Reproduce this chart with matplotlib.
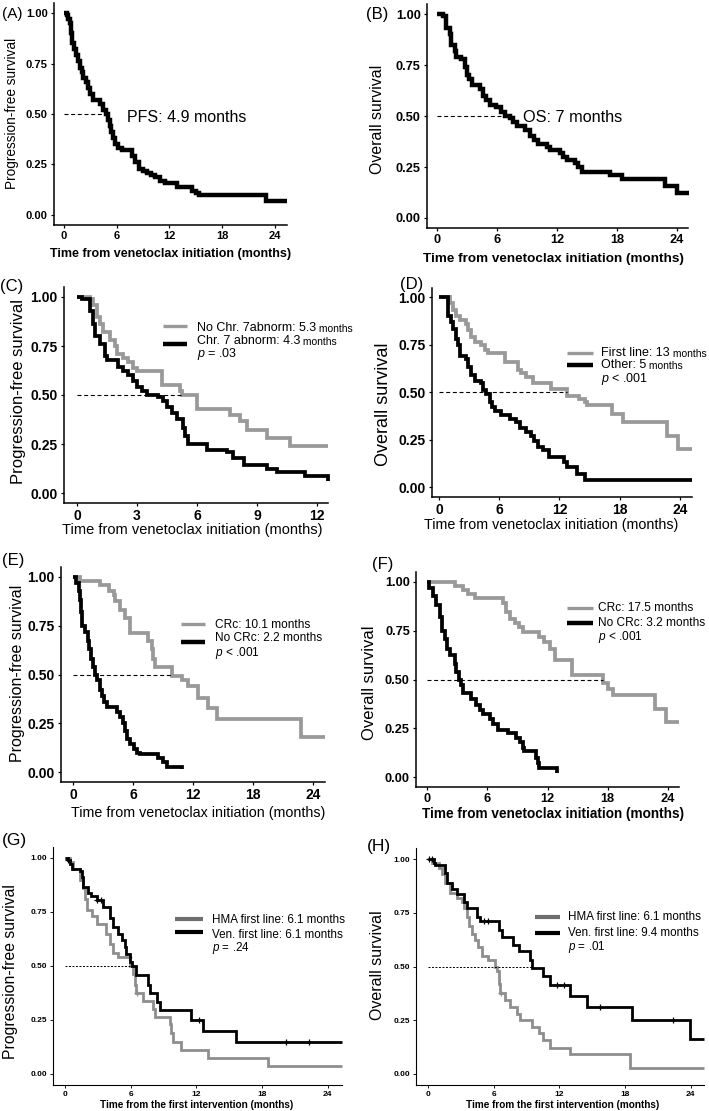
import matplotlib.pyplot as plt
import matplotlib.transforms as mtransforms
import numpy as np
from matplotlib.lines import Line2D

plt.rcParams["font.family"] = ["Liberation Sans", "DejaVu Sans"]
plt.rcParams["mathtext.fontset"] = "custom"
plt.rcParams["mathtext.it"] = "Liberation Sans:italic"
plt.rcParams["mathtext.rm"] = "Liberation Sans"

W, H = 709, 1111
GREY = "#999999"
GREY_G = "#8e8e8e"
GREY_G_KEY = "#6e6e6e"

Y_TICKS = [0.0, 0.25, 0.5, 0.75, 1.0]
Y_TICK_LABELS = ["0.00", "0.25", "0.50", "0.75", "1.00"]
X_TICKS_24 = [0, 6, 12, 18, 24]
X_TICKS_12 = [0, 3, 6, 9, 12]

# ---- (A) PFS, whole cohort ----
a_t = [0, 0.3, 0.5, 0.7, 0.8, 0.95, 1.1, 1.4, 1.6, 1.8, 2.0, 2.2, 2.5, 2.7, 3.0, 3.3, 4.1, 4.4, 4.8, 5.0,
       5.2, 5.4, 5.6, 5.8, 6.1, 6.6, 7.8, 8.1, 8.5, 9.0, 9.4, 9.9, 10.4, 10.9, 11.5, 12.9, 14.6, 15.0, 15.4, 23.0,
       25.4]
a_s = [1.0, 0.99, 0.97, 0.95, 0.90, 0.85, 0.82, 0.79, 0.76, 0.73, 0.71, 0.68, 0.66, 0.63, 0.60, 0.57, 0.55, 0.52,
       0.50, 0.47, 0.44, 0.41, 0.38, 0.35, 0.33, 0.32, 0.29, 0.26, 0.23, 0.22, 0.21, 0.20, 0.19, 0.17, 0.16, 0.14,
       0.12, 0.11, 0.10, 0.07, 0.07]

# ---- (B) OS, whole cohort ----
b_t = [0, 0.6, 0.94, 1.27, 1.4, 1.77, 1.94, 2.44, 2.78, 3.0, 3.2, 3.55, 4.28, 4.6, 4.95, 5.35, 5.95, 6.45, 6.8,
       7.3, 7.6, 7.96, 8.8, 9.3, 9.7, 10.1, 10.97, 11.3, 12.3, 12.6, 13.0, 13.8, 14.1, 14.5, 17.3, 18.5, 22.8, 24.0,
       25.2]
b_s = [1.0, 0.99, 0.93, 0.90, 0.85, 0.82, 0.79, 0.78, 0.74, 0.70, 0.68, 0.65, 0.63, 0.60, 0.58, 0.555, 0.545,
       0.52, 0.50, 0.49, 0.47, 0.45, 0.43, 0.40, 0.38, 0.365, 0.35, 0.335, 0.32, 0.30, 0.285, 0.27, 0.25, 0.225,
       0.21, 0.19, 0.155, 0.125, 0.125]

# ---- (C) PFS by chromosome 7 ----
c_grey_t = [0, 0.65, 0.82, 0.98, 1.15, 1.32, 1.65, 1.9, 2.0, 2.3, 2.57, 2.8, 3.0, 4.24, 5.15, 5.25, 6.0, 7.66,
            8.16, 8.5, 9.5, 10.67, 12.55]
c_grey_s = [1.0, 0.99, 0.96, 0.90, 0.86, 0.82, 0.78, 0.75, 0.71, 0.69, 0.67, 0.64, 0.62, 0.55, 0.52, 0.50, 0.43,
            0.40, 0.365, 0.32, 0.28, 0.24, 0.24]
c_black_t = [0, 0.23, 0.65, 0.82, 0.9, 1.15, 1.4, 1.48, 2.07, 2.3, 2.57, 2.8, 3.0, 3.24, 3.5, 4.07, 4.32, 4.5,
             4.74, 5.0, 5.3, 5.4, 5.57, 6.5, 7.5, 7.8, 8.33, 9.5, 10.0, 11.4, 12.55]
c_black_s = [1.0, 0.99, 0.93, 0.86, 0.80, 0.76, 0.70, 0.68, 0.645, 0.62, 0.60, 0.57, 0.54, 0.52, 0.50, 0.49, 0.47,
             0.44, 0.41, 0.38, 0.33, 0.29, 0.25, 0.22, 0.21, 0.18, 0.145, 0.12, 0.105, 0.085, 0.06]
c_labels = ["No Chr. 7abnorm: 5.3", "Chr. 7 abnorm: 4.3"]
c_suffix = " months"
c_p = "$p$ = .03"

# ---- (D) OS by line of therapy ----
d_grey_t = [0, 1.06, 1.4, 1.73, 2.06, 2.73, 2.9, 3.2, 3.56, 4.2, 4.55, 4.9, 6.55, 7.9, 8.2, 8.7, 9.4, 11.2, 12.7,
            13.9, 14.5, 14.7, 17.2, 18.35, 22.7, 23.8, 25.2]
d_grey_s = [1.0, 0.97, 0.93, 0.90, 0.88, 0.86, 0.825, 0.79, 0.765, 0.745, 0.72, 0.705, 0.66, 0.615, 0.60, 0.58,
            0.55, 0.515, 0.48, 0.465, 0.445, 0.43, 0.385, 0.34, 0.27, 0.20, 0.20]
d_black_t = [0, 0.9, 1.23, 1.4, 1.73, 1.9, 2.06, 2.73, 2.9, 3.2, 3.56, 4.2, 4.4, 4.7, 5.05, 5.3, 5.55, 6.2, 7.05,
             7.7, 8.05, 8.7, 9.2, 9.5, 9.9, 10.4, 11.0, 12.4, 12.7, 13.7, 14.5, 25.2]
d_black_s = [1.0, 0.90, 0.87, 0.83, 0.78, 0.75, 0.69, 0.675, 0.63, 0.59, 0.56, 0.55, 0.51, 0.49, 0.45, 0.42, 0.40,
             0.38, 0.36, 0.34, 0.31, 0.29, 0.27, 0.24, 0.21, 0.195, 0.16, 0.13, 0.105, 0.07, 0.035, 0.035]
d_labels = ["First line: 13", "Other: 5"]
d_suffix = " months"
d_p = "$p$ < .001"

# ---- (E) PFS by CRc ----
e_grey_t = [0, 0.73, 2.7, 3.56, 4.05, 4.2, 4.7, 5.2, 5.7, 7.5, 7.9, 8.0, 8.2, 9.9, 10.9, 11.5, 12.5, 13.5, 14.4,
            22.8, 25.2]
e_grey_s = [1.0, 0.98, 0.96, 0.93, 0.91, 0.875, 0.83, 0.79, 0.715, 0.67, 0.63, 0.58, 0.54, 0.49, 0.47, 0.44, 0.38,
            0.33, 0.27, 0.18, 0.18]
e_black_t = [0, 0.33, 0.56, 0.73, 0.8, 0.9, 1.23, 1.46, 1.56, 1.8, 2.0, 2.16, 2.4, 2.73, 2.9, 3.1, 3.4, 4.4, 4.7,
             5.0, 5.2, 5.4, 5.7, 6.05, 6.4, 6.7, 8.5, 9.0, 9.4, 10.9]
e_black_s = [1.0, 0.97, 0.93, 0.88, 0.82, 0.75, 0.72, 0.67, 0.63, 0.58, 0.54, 0.50, 0.47, 0.42, 0.39, 0.36, 0.335,
             0.31, 0.28, 0.25, 0.21, 0.17, 0.145, 0.12, 0.10, 0.09, 0.07, 0.05, 0.025, 0.015]
e_labels = ["CRc: 10.1 months", "No CRc: 2.2 months"]
e_p = "$p$ < .001"

# ---- (F) OS by CRc ----
f_grey_t = [0, 2.75, 3.6, 4.1, 4.75, 7.6, 7.9, 8.24, 8.74, 9.2, 9.57, 11.2, 11.7, 12.2, 12.7, 14.4, 17.5, 18.0,
            18.5, 22.7, 23.85, 25.1]
f_grey_s = [1.0, 0.98, 0.96, 0.94, 0.92, 0.89, 0.845, 0.81, 0.79, 0.77, 0.745, 0.72, 0.69, 0.655, 0.60, 0.525,
            0.48, 0.45, 0.42, 0.35, 0.28, 0.28]
f_black_t = [0, 0.2, 0.6, 0.86, 1.26, 1.33, 1.53, 1.76, 2.0, 2.26, 2.75, 2.92, 3.2, 3.35, 3.6, 4.4, 4.85, 5.25,
             5.6, 6.25, 6.6, 7.1, 8.1, 8.9, 9.25, 9.57, 9.7, 10.9, 11.05, 11.2, 12.9]
f_black_s = [1.0, 0.97, 0.93, 0.88, 0.86, 0.82, 0.75, 0.71, 0.655, 0.625, 0.58, 0.54, 0.50, 0.47, 0.43, 0.40, 0.37,
             0.345, 0.325, 0.30, 0.27, 0.24, 0.225, 0.20, 0.18, 0.15, 0.135, 0.10, 0.07, 0.045, 0.02]
f_labels = ["CRc: 17.5 months", "No CRc: 3.2 months"]
f_p = "$p$ < .001"

# ---- (G) PFS, HMA vs venetoclax first line ----
g_grey_t = [0, 0.45, 0.76, 1.37, 1.67, 1.82, 1.98, 2.43, 2.9, 3.74, 4.1, 4.4, 4.86, 5.9, 6.2, 6.4, 6.5, 7.14, 8.05,
            8.2, 9.57, 9.7, 9.9, 10.6, 13.07, 18.5, 25.3]
g_grey_s = [1.0, 0.98, 0.95, 0.90, 0.86, 0.81, 0.76, 0.73, 0.695, 0.65, 0.60, 0.56, 0.54, 0.50, 0.465, 0.41, 0.375,
            0.34, 0.30, 0.265, 0.23, 0.19, 0.15, 0.11, 0.072, 0.037, 0.037]
g_grey_cens = [5.8, 6.6]
g_black_t = [0, 0.3, 0.45, 0.6, 1.37, 1.52, 1.67, 2.1, 2.4, 2.9, 3.5, 4.15, 4.4, 4.86, 5.17, 5.47, 5.6, 5.93, 6.08,
             6.5, 7.6, 7.75, 8.36, 8.66, 11.55, 12.6, 15.6, 25.3]
g_black_s = [1.0, 0.99, 0.97, 0.95, 0.94, 0.91, 0.865, 0.84, 0.825, 0.805, 0.775, 0.72, 0.68, 0.65, 0.62, 0.59,
             0.555, 0.52, 0.50, 0.46, 0.41, 0.375, 0.335, 0.295, 0.25, 0.20, 0.15, 0.15]
g_black_cens = [0.3, 2.9, 3.3, 12.2, 20.2, 22.3]
g_labels = ["HMA first line: 6.1 months", "Ven. first line: 6.1 months"]
g_p = "$p$ = .24"

# ---- (H) OS, HMA vs venetoclax first line ----
h_grey_t = [0, 0.36, 1.0, 1.28, 1.58, 2.04, 2.64, 3.1, 3.25, 3.56, 3.7, 4.0, 4.3, 4.6, 4.9, 5.5, 6.1, 6.3, 6.45,
            6.6, 7.05, 7.5, 8.1, 8.4, 9.5, 10.1, 10.5, 11.15, 13.0, 18.45, 25.2]
h_grey_s = [1.0, 0.98, 0.96, 0.93, 0.89, 0.84, 0.82, 0.80, 0.77, 0.73, 0.69, 0.65, 0.625, 0.59, 0.55, 0.53, 0.50,
            0.48, 0.42, 0.375, 0.345, 0.31, 0.28, 0.25, 0.22, 0.19, 0.16, 0.12, 0.095, 0.03, 0.03]
h_grey_cens = [6.7]
h_black_t = [0, 0.5, 0.65, 1.58, 1.73, 2.2, 2.64, 3.25, 3.56, 4.47, 4.77, 6.44, 6.75, 7.8, 8.27, 9.33, 9.5, 10.5,
             11.15, 13.0, 14.5, 18.6, 23.9, 25.2]
h_black_s = [1.0, 0.98, 0.97, 0.935, 0.89, 0.86, 0.835, 0.80, 0.77, 0.73, 0.71, 0.67, 0.635, 0.60, 0.57, 0.53,
             0.495, 0.455, 0.415, 0.365, 0.31, 0.25, 0.165, 0.165]
h_black_cens = [0.1, 0.4, 5.1, 5.5, 11.8, 12.4, 15.7, 22.4]
h_labels = ["HMA first line: 6.1 months", "Ven. first line: 9.4 months"]
h_p = "$p$ = .01"

fig = plt.figure(figsize=(W / 100, H / 100), dpi=100)
PX = mtransforms.Affine2D().scale(1 / W, -1 / H).translate(0, 1) + fig.transFigure


def make_axes(left, top, right, bottom, xlim, xticks, tick_size, spine_w=1.1, tick_len=2.3):
    ax = fig.add_axes([left / W, 1 - bottom / H, (right - left) / W, (bottom - top) / H])
    ax.set_xlim(*xlim)
    ax.set_ylim(-0.05, 1.05)
    ax.set_xticks(xticks)
    ax.set_yticks(Y_TICKS)
    ax.set_yticklabels(Y_TICK_LABELS)
    for side in ("top", "right"):
        ax.spines[side].set_visible(False)
    for side in ("left", "bottom"):
        ax.spines[side].set_linewidth(spine_w)
    ax.tick_params(length=tick_len, width=spine_w * 0.8, labelsize=tick_size, pad=2.2)
    for lab in ax.get_xticklabels() + ax.get_yticklabels():
        lab.set_fontweight("bold")
    ax.patch.set_visible(False)
    return ax


def set_labels(ax, ylabel, yxy, ysize, xlabel, xxy, xsize, xweight):
    ax.set_ylabel(ylabel, fontsize=ysize)
    ax.yaxis.label.set_verticalalignment("center")
    ax.yaxis.set_label_coords(*yxy, transform=PX)
    ax.set_xlabel(xlabel, fontsize=xsize, fontweight=xweight)
    ax.xaxis.label.set_verticalalignment("center")
    ax.xaxis.set_label_coords(*xxy, transform=PX)


def draw_curve(ax, t, s, color, lw, censor=None, ms=4.5):
    ax.step(t, s, where="post", color=color, lw=lw, solid_joinstyle="miter", solid_capstyle="butt", clip_on=False)
    if censor:
        idx = np.searchsorted(t, censor, side="right") - 1
        ax.plot(censor, np.asarray(s)[idx], ls="none", marker="+", ms=ms, mew=0.9, color=color)


def median_line(ax, curves, lw, dashes):
    ends = [t[int(np.argmax(np.asarray(s) <= 0.5))] for t, s in curves]
    ax.hlines(0.5, 0, max(ends), colors="black", lw=lw, linestyles=(0, dashes))


def legend(keys, line_x, text_x, rows, labels, p_text, size, suffix=None, suffix_size=None):
    # keys: (color, y, lw) of the two legend keys; rows: y of the three text rows
    for color, y, lw in keys:
        fig.add_artist(Line2D([line_x[0], line_x[1]], [y, y], transform=PX, color=color, lw=lw,
                              solid_capstyle="butt"))
    for lab, y in zip(labels, rows[:2]):
        txt = fig.text(text_x, y, lab, transform=PX, fontsize=size, va="center", ha="left")
        if suffix:
            fig.add_artist(plt.Annotation(suffix, xy=(1, 0), xycoords=txt, fontsize=suffix_size,
                                          va="bottom", ha="left"))
    fig.text(text_x, rows[2], p_text, transform=PX, fontsize=size, va="center", ha="left")


def letter(x, y, s, size=12):
    fig.text(x, y, s, transform=PX, fontsize=size, va="center", ha="left")


LW_AB, LW_CF, LW_GH = 3.2, 2.7, 2.0
DASH = (3.6, 2.4)
DOT = (2.0, 1.6)
PFS_LABEL = "Progression-free survival"
OS_LABEL = "Overall survival"
X_LABEL = "Time from venetoclax initiation (months)"
X_LABEL_GH = "Time from the first intervention (months)"

# (A)
ax = make_axes(54, 2.9, 287, 225.1, (-1.14, 25.4), X_TICKS_24, 8)
draw_curve(ax, a_t, a_s, "black", LW_AB)
median_line(ax, [(a_t, a_s)], 0.8, DASH)
set_labels(ax, PFS_LABEL, (12, 113), 9.8, X_LABEL, (171, 254), 9, "bold")
fig.text(127, 117, "PFS: 4.9 months", transform=PX, fontsize=11.5, va="center")
letter(2, 14, "(A)", 11)

# (B)
ax = make_axes(427, 3.8, 688, 228.2, (-1.0, 25.1), X_TICKS_24, 9.2)
draw_curve(ax, b_t, b_s, "black", LW_AB)
median_line(ax, [(b_t, b_s)], 0.8, DASH)
set_labels(ax, OS_LABEL, (378, 119), 11.4, X_LABEL, (553, 259), 9.7, "bold")
fig.text(523, 117, "OS: 7 months", transform=PX, fontsize=11.7, va="center")
letter(366, 15, "(B)", 12)

# (C)
ax = make_axes(64, 287.2, 328, 502.8, (-0.65, 12.55), X_TICKS_12, 10)
draw_curve(ax, c_grey_t, c_grey_s, GREY, LW_CF)
draw_curve(ax, c_black_t, c_black_s, "black", LW_CF)
median_line(ax, [(c_grey_t, c_grey_s), (c_black_t, c_black_s)], 0.8, DASH)
set_labels(ax, PFS_LABEL, (19, 391), 12, X_LABEL, (192, 530), 10.5, "normal")
legend([(GREY, 326, 2.4), ("black", 344, 3.2)], (163, 187), 197, (328, 341, 354), c_labels, c_p, 9,
       c_suffix, 7.5)
letter(0, 287, "(C)", 12)

# (D)
ax = make_axes(432, 287.5, 692, 496.5, (-0.7, 25.2), X_TICKS_24, 10)
draw_curve(ax, d_grey_t, d_grey_s, GREY, LW_CF)
draw_curve(ax, d_black_t, d_black_s, "black", LW_CF)
median_line(ax, [(d_grey_t, d_grey_s), (d_black_t, d_black_s)], 0.8, DASH)
set_labels(ax, OS_LABEL, (384, 404), 13, X_LABEL, (551, 525), 10.3, "normal")
legend([(GREY, 353, 2.4), ("black", 365, 3.2)], (567, 593), 601, (353, 365, 379), d_labels, d_p, 9,
       d_suffix, 7.5)
letter(400, 284, "(D)", 12)

# (E)
ax = make_axes(61, 567.25, 325, 781.75, (-1.2, 25.2), X_TICKS_24, 10)
draw_curve(ax, e_grey_t, e_grey_s, GREY, LW_CF)
draw_curve(ax, e_black_t, e_black_s, "black", LW_CF)
median_line(ax, [(e_grey_t, e_grey_s), (e_black_t, e_black_s)], 0.8, DASH)
set_labels(ax, PFS_LABEL, (17.5, 673), 11.5, X_LABEL, (198, 813), 10.3, "normal")
legend([(GREY, 624, 2.4), ("black", 642, 3.2)], (181, 205), 215, (625, 638, 653), e_labels, e_p, 8.6)
letter(2, 560, "(E)", 12)

# (F)
ax = make_axes(416, 572.25, 679, 786.75, (-1.1, 25.1), X_TICKS_24, 9.2)
draw_curve(ax, f_grey_t, f_grey_s, GREY, LW_CF)
draw_curve(ax, f_black_t, f_black_s, "black", LW_CF)
median_line(ax, [(f_grey_t, f_grey_s), (f_black_t, f_black_s)], 0.8, DASH)
set_labels(ax, OS_LABEL, (370, 682.5), 12, X_LABEL, (553, 814), 9.8, "bold")
legend([(GREY, 608, 2.4), ("black", 623, 3.2)], (567, 593), 598, (608, 623, 637), f_labels, f_p, 8.6)
letter(372, 565, "(F)", 12)

# (G)
ax = make_axes(53, 847.2, 342, 1084.8, (-1.1, 25.3), X_TICKS_24, 6, spine_w=0.8, tick_len=2)
draw_curve(ax, g_grey_t, g_grey_s, GREY_G, LW_GH, g_grey_cens)
draw_curve(ax, g_black_t, g_black_s, "black", LW_GH, g_black_cens)
median_line(ax, [(g_grey_t, g_grey_s), (g_black_t, g_black_s)], 0.7, DOT)
set_labels(ax, PFS_LABEL, (11, 972), 11.3, X_LABEL_GH, (197, 1105), 7.2, "bold")
legend([(GREY_G_KEY, 919, 3.0), ("black", 932, 3.0)], (175, 203), 212, (920, 935, 948), g_labels, g_p, 8.4)
letter(2, 840, "(G)", 12.5)

# (H)
ax = make_axes(416, 848.25, 704, 1084.75, (-1.1, 25.2), X_TICKS_24, 6, spine_w=0.8, tick_len=2)
draw_curve(ax, h_grey_t, h_grey_s, GREY_G, LW_GH, h_grey_cens)
draw_curve(ax, h_black_t, h_black_s, "black", LW_GH, h_black_cens)
median_line(ax, [(h_grey_t, h_grey_s), (h_black_t, h_black_s)], 0.7, DOT)
set_labels(ax, OS_LABEL, (377.5, 965), 11.5, X_LABEL_GH, (562.5, 1105), 7.2, "bold")
legend([(GREY_G_KEY, 917, 3.0), ("black", 933, 3.0)], (535, 560), 568, (917, 933, 947), h_labels, h_p, 8.4)
letter(367, 847, "(H)", 12.5)

fig.savefig("out.png", dpi=100)
